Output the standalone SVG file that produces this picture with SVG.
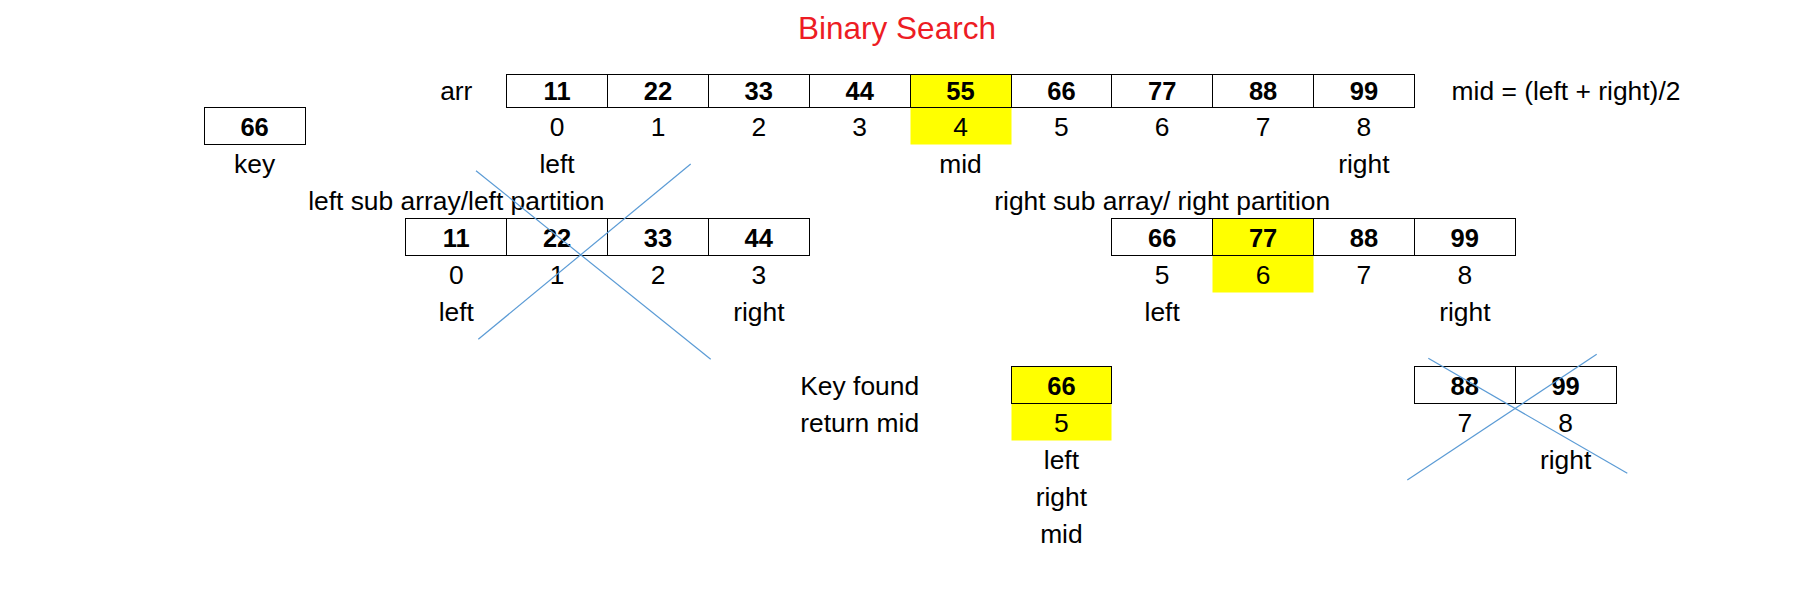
<svg xmlns="http://www.w3.org/2000/svg" width="1819" height="589" viewBox="0 0 1819 589">
<style>
.t{font-family:"Liberation Sans",Arial,sans-serif;font-size:26.4px;fill:#000;text-anchor:middle}
.b{font-family:"Liberation Sans",Arial,sans-serif;font-size:25.5px;font-weight:bold;fill:#000;text-anchor:middle}
.title{font-family:"Liberation Sans",Arial,sans-serif;font-size:31.5px;fill:#ED1C24;text-anchor:middle}
.c{fill:none;stroke:#000;stroke-width:1}
.y{fill:#FFFF00}
.x{stroke:#5B9BD5;stroke-width:1.2;fill:none}
</style>
<rect width="1819" height="589" fill="#fff"/>
<g id="title"><text class="title" x="897" y="39">Binary Search</text></g>

<g id="formula"><text class="t" x="1566" y="100">mid = (left + right)/2</text></g>

<g id="key">
<rect class="c" x="204.5" y="107.5" width="101" height="37"/>
<text class="b" x="254.6" y="136">66</text>
<text class="t" x="254.6" y="173">key</text>
</g>

<g id="main-array">
<text class="t" x="456.3" y="100">arr</text>
<rect class="y" x="910.5" y="74.5" width="101" height="70"/>
<rect class="c" x="506.5" y="74.5" width="101" height="33"/>
<rect class="c" x="607.5" y="74.5" width="101" height="33"/>
<rect class="c" x="708.5" y="74.5" width="101" height="33"/>
<rect class="c" x="809.5" y="74.5" width="101" height="33"/>
<rect class="c" x="910.5" y="74.5" width="101" height="33"/>
<rect class="c" x="1011.5" y="74.5" width="100" height="33"/>
<rect class="c" x="1111.5" y="74.5" width="101" height="33"/>
<rect class="c" x="1212.5" y="74.5" width="101" height="33"/>
<rect class="c" x="1313.5" y="74.5" width="101" height="33"/>
<text class="b" x="557.1" y="100">11</text>
<text class="b" x="658" y="100">22</text>
<text class="b" x="758.8" y="100">33</text>
<text class="b" x="859.7" y="100">44</text>
<text class="b" x="960.5" y="100">55</text>
<text class="b" x="1061.4" y="100">66</text>
<text class="b" x="1162.2" y="100">77</text>
<text class="b" x="1263.1" y="100">88</text>
<text class="b" x="1363.9" y="100">99</text>
<text class="t" x="557.1" y="136">0</text>
<text class="t" x="658" y="136">1</text>
<text class="t" x="758.8" y="136">2</text>
<text class="t" x="859.7" y="136">3</text>
<text class="t" x="960.5" y="136">4</text>
<text class="t" x="1061.4" y="136">5</text>
<text class="t" x="1162.2" y="136">6</text>
<text class="t" x="1263.1" y="136">7</text>
<text class="t" x="1363.9" y="136">8</text>
<text class="t" x="557.1" y="173">left</text>
<text class="t" x="960.5" y="173">mid</text>
<text class="t" x="1363.9" y="173">right</text>
</g>

<g id="left-sub-array">
<text class="t" x="456.3" y="210">left sub array/left partition</text>
<rect class="c" x="405.5" y="218.5" width="101" height="37"/>
<rect class="c" x="506.5" y="218.5" width="101" height="37"/>
<rect class="c" x="607.5" y="218.5" width="101" height="37"/>
<rect class="c" x="708.5" y="218.5" width="101" height="37"/>
<text class="b" x="456.3" y="247">11</text>
<text class="b" x="557.1" y="247">22</text>
<text class="b" x="658" y="247">33</text>
<text class="b" x="758.8" y="247">44</text>
<text class="t" x="456.3" y="284">0</text>
<text class="t" x="557.1" y="284">1</text>
<text class="t" x="658" y="284">2</text>
<text class="t" x="758.8" y="284">3</text>
<text class="t" x="456.3" y="321">left</text>
<text class="t" x="758.8" y="321">right</text>
</g>

<g id="right-sub-array">
<text class="t" x="1162.2" y="210">right sub array/ right partition</text>
<rect class="y" x="1212.5" y="218.5" width="101" height="74"/>
<rect class="c" x="1111.5" y="218.5" width="101" height="37"/>
<rect class="c" x="1212.5" y="218.5" width="101" height="37"/>
<rect class="c" x="1313.5" y="218.5" width="101" height="37"/>
<rect class="c" x="1414.5" y="218.5" width="101" height="37"/>
<text class="b" x="1162.2" y="247">66</text>
<text class="b" x="1263.1" y="247">77</text>
<text class="b" x="1363.9" y="247">88</text>
<text class="b" x="1464.8" y="247">99</text>
<text class="t" x="1162.2" y="284">5</text>
<text class="t" x="1263.1" y="284">6</text>
<text class="t" x="1363.9" y="284">7</text>
<text class="t" x="1464.8" y="284">8</text>
<text class="t" x="1162.2" y="321">left</text>
<text class="t" x="1464.8" y="321">right</text>
</g>

<g id="key-found">
<text class="t" x="859.7" y="395">Key found</text>
<text class="t" x="859.7" y="432">return mid</text>
<rect class="y" x="1011.5" y="366.5" width="100" height="74"/>
<rect class="c" x="1011.5" y="366.5" width="100" height="37"/>
<text class="b" x="1061.4" y="395">66</text>
<text class="t" x="1061.4" y="432">5</text>
<text class="t" x="1061.4" y="469">left</text>
<text class="t" x="1061.4" y="506">right</text>
<text class="t" x="1061.4" y="543">mid</text>
</g>

<g id="last-sub-array">
<rect class="c" x="1414.5" y="366.5" width="101" height="37"/>
<rect class="c" x="1515.5" y="366.5" width="101" height="37"/>
<text class="b" x="1464.8" y="395">88</text>
<text class="b" x="1565.6" y="395">99</text>
<text class="t" x="1464.8" y="432">7</text>
<text class="t" x="1565.6" y="432">8</text>
<text class="t" x="1565.6" y="469">right</text>
</g>

<g id="connectors">
<line class="x" x1="476" y1="170.7" x2="710.7" y2="359.3"/>
<line class="x" x1="690.7" y1="164" x2="478.3" y2="339.3"/>
<line class="x" x1="1428.3" y1="358.3" x2="1627.3" y2="473.3"/>
<line class="x" x1="1596.7" y1="354.3" x2="1407.3" y2="480"/>
</g>
</svg>
